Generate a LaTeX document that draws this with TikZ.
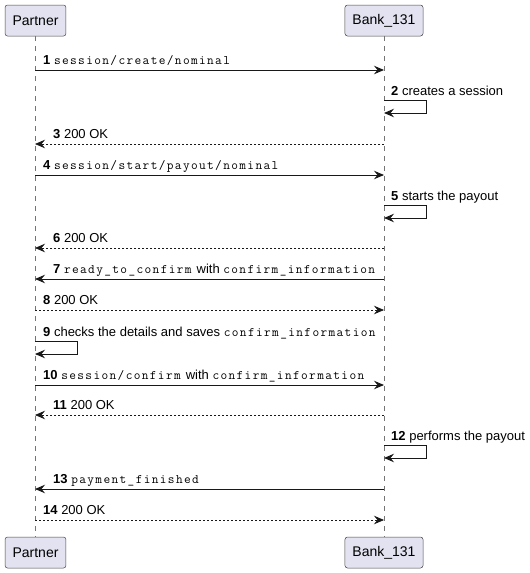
\documentclass[tikz,border=0pt]{standalone}
\usepackage{fontspec}
\setmainfont{Liberation Sans}
\setmonofont[LetterSpace=10.5]{Latin Modern Mono}
\usetikzlibrary{arrows.meta,positioning}
\definecolor{partfill}{HTML}{E2E2F0}
\definecolor{umlline}{HTML}{181818}
\newcommand{\seqno}[1]{\textbf{#1}}

\begin{document}
\begin{tikzpicture}[x=1pt,y=-1pt,
  part/.style={rectangle, draw=umlline!80, line width=0.5pt, fill=partfill, minimum height=31pt, inner xsep=7.5pt, rounded corners=2.5pt, font=\fontsize{14}{16}\selectfont},
  life/.style={umlline!60, line width=0.5pt, dash pattern=on 5pt off 5pt},
  msg/.style={-{Stealth[length=10pt, width=8.5pt, inset=3.5pt]}, line width=0.9pt, umlline},
  reply/.style={msg, line width=0.7pt, dash pattern=on 2pt off 2pt},
  lbl/.style={anchor=base west, inner sep=0pt, font=\fontsize{13}{15}\selectfont}
]
  \useasboundingbox (0,0) rectangle (530,573);

  \node[part] (partner) at (35.5,20.5) {Partner};
  \node[part] (bank) at (384,20.5) {Bank\_131};
  \node[part] (partnerEnd) at (35.5,552.5) {Partner};
  \node[part] (bankEnd) at (384,552.5) {Bank\_131};

  \draw[life] (partner.south) -- (partnerEnd.north);
  \draw[life] (bank.south) -- (bankEnd.north);

  % points on the lifelines
  \foreach \n/\y in {1/70,3/144,4/175,6/248,7/279,8/310,10/385,11/415,13/489,14/520}{
    \coordinate (p\n) at (35,\y);
    \coordinate (b\n) at (384,\y);
  }
  \foreach \n/\x/\y in {2/384/100,5/384/205,9/35/341,12/384/445}{
    \coordinate (s\n a) at (\x,\y);
    \coordinate (s\n b) at (\x,\y+13);
  }

  \draw[msg] (p1) -- (b1);
  \node[lbl] (l1) at (43,64) {\seqno{1} \texttt{session/create/nominal}};
  \draw[msg] (s2a) -- ++(42,0) |- (s2b);
  \node[lbl] (l2) at (391,95.5) {\seqno{2} creates a session};
  \draw[reply] (b3) -- (p3);
  \node[lbl] (l3) at (53,138) {\seqno{3} 200 OK};
  \draw[msg] (p4) -- (b4);
  \node[lbl] (l4) at (43,169) {\seqno{4} \texttt{session/start/payout/nominal}};
  \draw[msg] (s5a) -- ++(42,0) |- (s5b);
  \node[lbl] (l5) at (391,200.5) {\seqno{5} starts the payout};
  \draw[reply] (b6) -- (p6);
  \node[lbl] (l6) at (53,242) {\seqno{6} 200 OK};
  \draw[msg] (b7) -- (p7);
  \node[lbl] (l7) at (53,273) {\seqno{7} \texttt{ready\_to\_confirm} with \texttt{confirm\_information}};
  \draw[reply] (p8) -- (b8);
  \node[lbl] (l8) at (43,304) {\seqno{8} 200 OK};
  \draw[msg] (s9a) -- ++(42,0) |- (s9b);
  \node[lbl] (l9) at (43,336.5) {\seqno{9} checks the details and saves \texttt{confirm\_information}};
  \draw[msg] (p10) -- (b10);
  \node[lbl] (l10) at (43,379) {\seqno{10} \texttt{session/confirm} with \texttt{confirm\_information}};
  \draw[reply] (b11) -- (p11);
  \node[lbl] (l11) at (53,409) {\seqno{11} 200 OK};
  \draw[msg] (s12a) -- ++(42,0) |- (s12b);
  \node[lbl] (l12) at (391,440.5) {\seqno{12} performs the payout};
  \draw[msg] (b13) -- (p13);
  \node[lbl] (l13) at (53,483) {\seqno{13} \texttt{payment\_finished}};
  \draw[reply] (p14) -- (b14);
  \node[lbl] (l14) at (43,514) {\seqno{14} 200 OK};
\end{tikzpicture}
\end{document}
